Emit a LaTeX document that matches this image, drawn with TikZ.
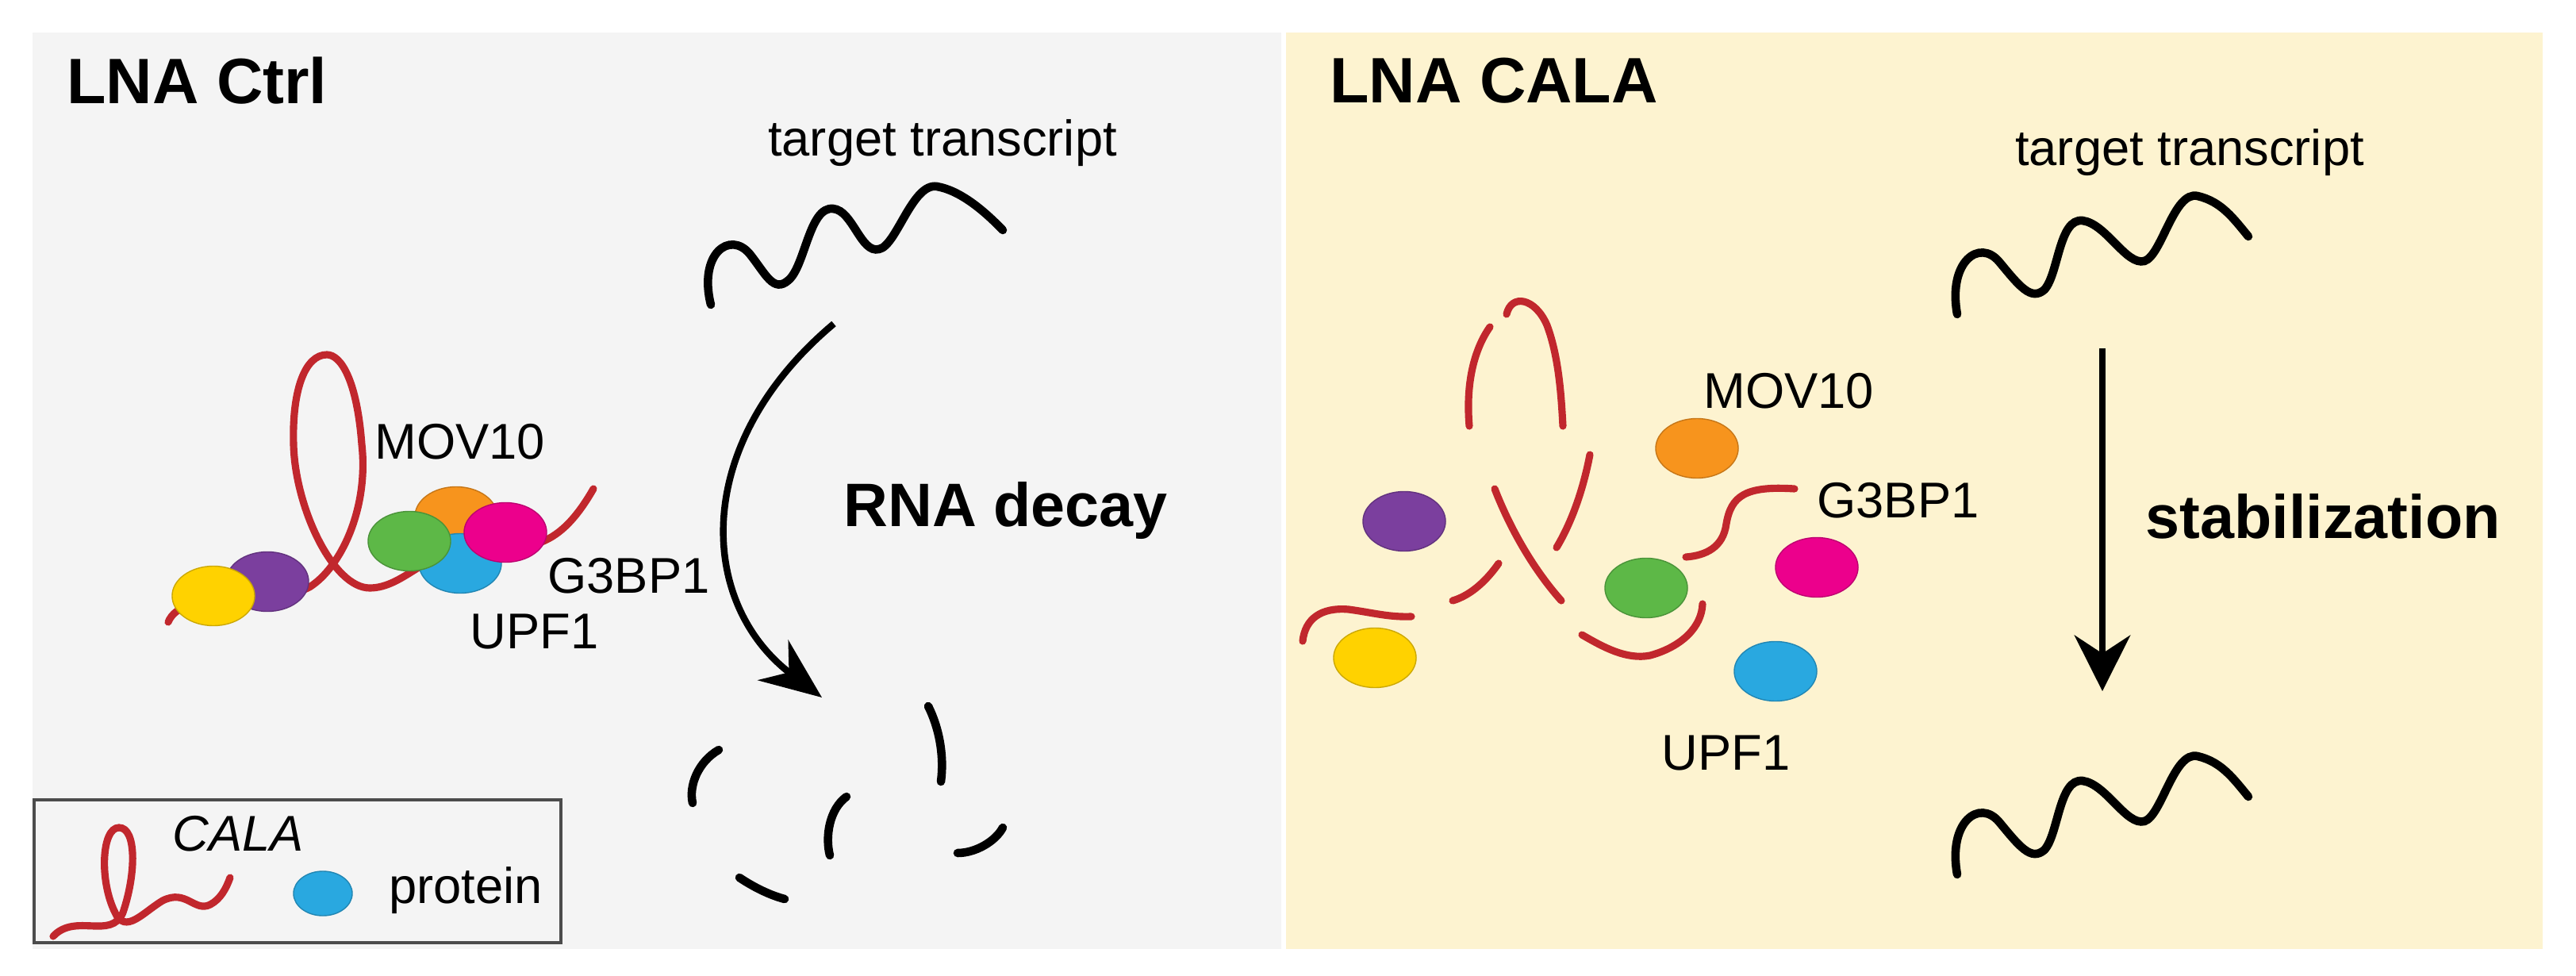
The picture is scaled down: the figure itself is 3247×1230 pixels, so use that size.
\documentclass[tikz,border=0pt]{standalone}
\usepackage{fontspec}
\setmainfont{Liberation Sans}
\usetikzlibrary{arrows.meta,shapes.geometric}
\definecolor{bgL}{HTML}{F4F4F4}
\definecolor{bgR}{HTML}{FDF3D0}
\definecolor{rna}{HTML}{C1272D}
\definecolor{pY}{HTML}{FFD200}
\definecolor{pP}{HTML}{7B3F9E}
\definecolor{pG}{HTML}{5DB847}
\definecolor{pB}{HTML}{29A8E0}
\definecolor{pO}{HTML}{F7941D}
\definecolor{pM}{HTML}{EC008C}
\begin{document}
\begin{tikzpicture}[x=0.01cm,y=-0.01cm,
  red/.style={draw=rna,line width=2.6pt,line cap=round},
  blk/.style={draw=black,line width=3pt,line cap=round},
  prot/.style={ellipse,minimum width=1.04cm,minimum height=0.75cm,inner sep=0pt,draw=#1!80!black,line width=0.4pt,fill=#1},
  title/.style={font=\fontsize{23}{27}\selectfont\bfseries,anchor=west},
  lab/.style={font=\fontsize{18}{22}\selectfont,anchor=west},
  big/.style={font=\fontsize{22}{26}\selectfont\bfseries}]
\useasboundingbox (0,0) rectangle (3247,1230);
\fill[white] (0,0) rectangle (3247,1230);
\fill[bgL] (41,41) rectangle (1615,1196);
\fill[bgR] (1621,41) rectangle (3205,1196);

% ---------- Left panel
\node[title] (t1) at (72,102) {LNA Ctrl};
\node[lab,anchor=center] (tt1) at (1188,180) {target transcript};
\draw[blk] (896,384) .. controls (880,320) and (920,290) .. (945,320) .. controls (965,345) and (975,370) .. (994,353) .. controls (1015,335) and (1020,260) .. (1050,263) .. controls (1075,265) and (1085,320) .. (1108,314) .. controls (1130,310) and (1150,230) .. (1181,235) .. controls (1210,240) and (1240,265) .. (1264,290);
\coordinate (a1s) at (1051,408);
\coordinate (a1e) at (1036,879);
\draw[line width=2.4pt,-{Stealth[length=22pt,width=18pt]}] (a1s) .. controls (870,560) and (880,760) .. (a1e);
\node[big,anchor=west] (rd) at (1051,643) {RNA decay};
% fragments
\draw[blk] (906,945) .. controls (880,960) and (868,990) .. (873,1012);
\draw[blk] (1170,890) .. controls (1185,920) and (1190,955) .. (1186,985);
\draw[blk] (1067,1004) .. controls (1045,1020) and (1040,1055) .. (1046,1078);
\draw[blk] (1264,1043) .. controls (1255,1060) and (1230,1075) .. (1207,1075);
\draw[blk] (932,1106) .. controls (950,1118) and (970,1128) .. (989,1133);
% CALA with complex
\draw[red] (212,784) .. controls (230,740) and (330,770) .. (390,740) .. controls (430,715) and (465,640) .. (456,560) .. controls (450,480) and (430,447) .. (412,447) .. controls (385,447) and (368,490) .. (370,560) .. controls (372,640) and (420,741) .. (466,741) .. controls (510,741) and (540,690) .. (600,690) .. controls (660,690) and (700,700) .. (748,616);
\node[prot=pP] (p1) at (337,733) {};
\node[prot=pY] (y1) at (269,751) {};
\node[prot=pO] (o1) at (575,651) {};
\node[prot=pB] (b1) at (580,710) {};
\node[prot=pG] (g1) at (516,682) {};
\node[prot=pM] (m1) at (637,671) {};
\node[lab] (mov1) at (460,557) {MOV10};
\node[lab] (g3b1) at (678,726) {G3BP1};
\node[lab] (upf1) at (580,796) {UPF1};
% legend
\draw[draw=black!70,line width=1pt] (43,1008) rectangle (707,1188);
\draw[red] (67,1180) .. controls (95,1150) and (140,1185) .. (155,1150) .. controls (172,1100) and (172,1043) .. (150,1043) .. controls (128,1043) and (125,1110) .. (145,1150) .. controls (158,1178) and (180,1150) .. (205,1135) .. controls (235,1120) and (245,1150) .. (265,1140) .. controls (278,1133) and (285,1120) .. (290,1106);
\node[font=\fontsize{18}{22}\selectfont\itshape,anchor=west] (cala) at (205,1051) {CALA};
\node[prot=pB,minimum width=0.74cm,minimum height=0.56cm] (lp) at (407,1126) {};
\node[lab] (prt) at (478,1122) {protein};

% ---------- Right panel
\node[title] (t2) at (1664,102) {LNA CALA};
\node[lab,anchor=center] (tt2) at (2760,192) {target transcript};
\draw[blk] (2467,396) .. controls (2455,330) and (2495,300) .. (2520,330) .. controls (2545,360) and (2560,380) .. (2577,365) .. controls (2595,345) and (2595,275) .. (2625,278) .. controls (2655,282) and (2680,335) .. (2703,329) .. controls (2725,322) and (2740,240) .. (2770,247) .. controls (2800,254) and (2815,275) .. (2834,298);
\draw[blk] (2467,1102) .. controls (2455,1036) and (2495,1006) .. (2520,1036) .. controls (2545,1066) and (2560,1086) .. (2577,1071) .. controls (2595,1051) and (2595,981) .. (2625,984) .. controls (2655,988) and (2680,1041) .. (2703,1035) .. controls (2725,1028) and (2740,946) .. (2770,953) .. controls (2800,960) and (2815,981) .. (2834,1004);
\coordinate (a2s) at (2650,439);
\coordinate (a2e) at (2650,871);
\draw[line width=2.4pt,-{Stealth[length=20pt,width=20pt]}] (a2s) -- (a2e);
\node[big,anchor=west] (st) at (2692,651) {stabilization};
% broken CALA
\draw[red] (1852,537) .. controls (1848,490) and (1855,445) .. (1878,412);
\draw[red] (1899,396) .. controls (1905,370) and (1935,375) .. (1950,410) .. controls (1965,450) and (1968,500) .. (1970,537);
\draw[red] (2004,573) .. controls (1995,620) and (1980,660) .. (1962,690);
\draw[red] (1884,616) .. controls (1905,670) and (1935,720) .. (1968,757);
\draw[red] (1831,757) .. controls (1855,750) and (1875,730) .. (1889,710);
\draw[red] (1642,808) .. controls (1645,780) and (1665,765) .. (1700,768) .. controls (1730,772) and (1750,778) .. (1779,777);
\draw[red] (1994,800) .. controls (2020,815) and (2050,832) .. (2080,826) .. controls (2120,815) and (2145,790) .. (2146,761);
\draw[red] (2125,702) .. controls (2150,700) and (2172,690) .. (2176,660) .. controls (2182,625) and (2200,612) .. (2262,616);
\node[prot=pP] (p2) at (1770,657) {};
\node[prot=pY] (y2) at (1733,829) {};
\node[prot=pG] (g2) at (2075,741) {};
\node[prot=pO] (o2) at (2139,565) {};
\node[prot=pM] (m2) at (2290,715) {};
\node[prot=pB] (b2) at (2238,846) {};
\node[lab] (mov2) at (2135,493) {MOV10};
\node[lab] (g3b2) at (2278,631) {G3BP1};
\node[lab] (upf2) at (2082,949) {UPF1};
\end{tikzpicture}
\end{document}
